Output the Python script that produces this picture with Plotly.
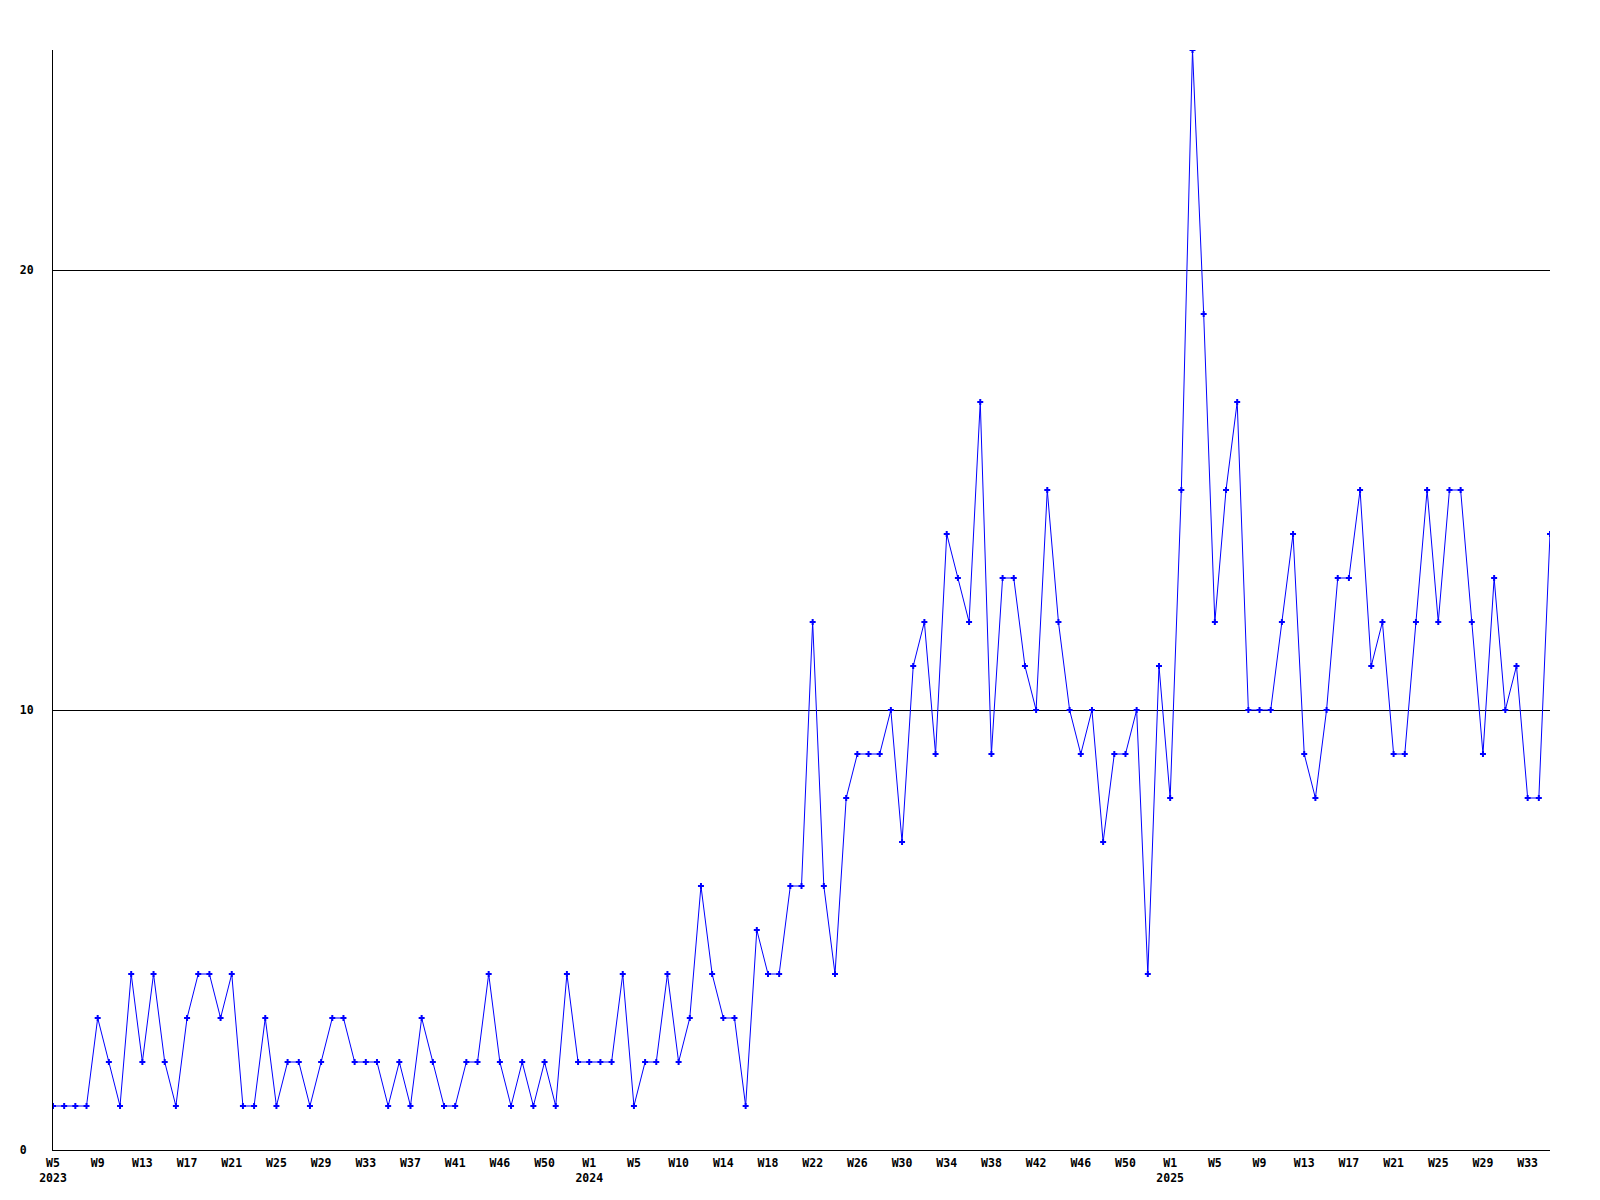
import plotly.graph_objects as go

# weekly counts, one value per point (2023 W5 ... 2025)
values = [
    1, 1, 1, 1, 3, 2, 1, 4, 2, 4, 2, 1, 3, 4, 4, 3, 4, 1, 1, 3,
    1, 2, 2, 1, 2, 3, 3, 2, 2, 2, 1, 2, 1, 3, 2, 1, 1, 2, 2, 4,
    2, 1, 2, 1, 2, 1, 4, 2, 2, 2, 2, 4, 1, 2, 2, 4, 2, 3, 6, 4,
    3, 3, 1, 5, 4, 4, 6, 6, 12, 6, 4, 8, 9, 9, 9, 10, 7, 11, 12, 9,
    14, 13, 12, 17, 9, 13, 13, 11, 10, 15, 12, 10, 9, 10, 7, 9, 9, 10, 4, 11,
    8, 15, 25, 19, 12, 15, 17, 10, 10, 10, 12, 14, 9, 8, 10, 13, 13, 15, 11, 12,
    9, 9, 12, 15, 12, 15, 15, 12, 9, 13, 10, 11, 8, 8, 14,
]

# x tick labels, one every 4 points
tick_weeks = [
    "W5", "W9", "W13", "W17", "W21", "W25", "W29", "W33", "W37", "W41", "W46", "W50",
    "W1", "W5", "W10", "W14", "W18", "W22", "W26", "W30", "W34", "W38", "W42", "W46", "W50",
    "W1", "W5", "W9", "W13", "W17", "W21", "W25", "W29", "W33",
]
tick_years = {0: "2023", 12: "2024", 25: "2025"}
label_step = 4

y_ticks = [0, 10, 20]
y_max = 25

x = list(range(len(values)))
tickvals = [i * label_step for i in range(len(tick_weeks))]
ticktext = []
for i, w in enumerate(tick_weeks):
    if i in tick_years:
        ticktext.append(f"{w}<br>{tick_years[i]}")
    else:
        ticktext.append(w)

font = dict(family="DejaVu Sans Mono", size=11.5, color="black", weight="bold")

fig = go.Figure()
fig.add_trace(go.Scatter(
    x=x, y=values, mode="lines+markers",
    line=dict(color="#0000ff", width=1),
    marker=dict(symbol="cross", size=5, color="#0000ff", line=dict(width=0)),
    hoverinfo="x+y",
))

fig.update_layout(
    width=1592, height=1192,
    margin=dict(l=42, r=50, t=42, b=50),
    paper_bgcolor="white", plot_bgcolor="white",
    showlegend=False,
    font=font,
)
fig.update_xaxes(
    range=[0, len(values) - 1],
    tickmode="array", tickvals=tickvals, ticktext=ticktext,
    showgrid=False, zeroline=False,
    showline=True, linecolor="black", linewidth=1,
    ticks="", tickfont=font, ticklabelstandoff=2,
)
fig.update_yaxes(
    range=[0, y_max],
    tickmode="array", tickvals=y_ticks,
    ticktext=[str(v).ljust(2, "\u00a0") for v in y_ticks],
    showgrid=True, gridcolor="black", gridwidth=1,
    zeroline=False,
    showline=True, linecolor="black", linewidth=1,
    ticks="", tickfont=font, ticklabelstandoff=16,
)

fig.write_html("out.html")
